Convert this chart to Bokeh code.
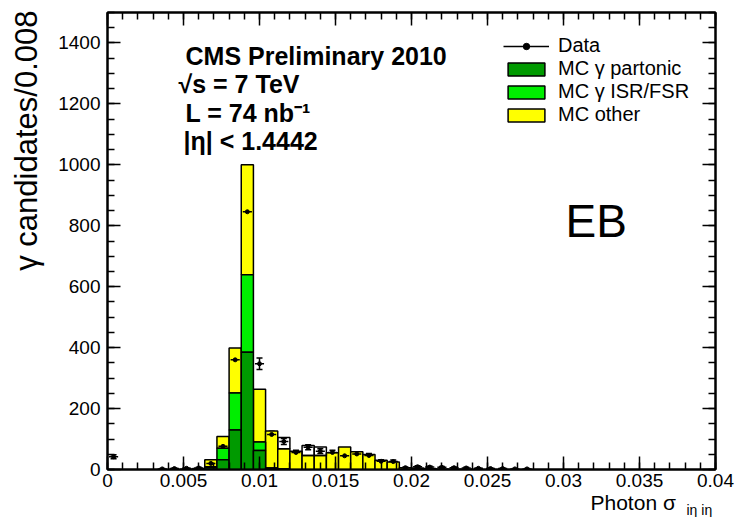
import math
from bokeh.plotting import figure
from bokeh.models import (Range1d, LinearAxis, Label, Legend, LegendItem, Whisker,
                          ColumnDataSource, TeeHead, FixedTicker, CustomJSTickFormatter)
from bokeh.embed import file_html
from bokeh.resources import INLINE

# ---------------- data ----------------
bin_width = 0.0008
n_bins = 50

mc_partonic = [0, 0, 0, 0, 0, 0, 0, 0, 6, 32,
               130, 385, 62, 3, 1, 0, 0, 0, 0, 0,
               0, 0, 0, 0, 0, 0, 0, 0, 0, 0,
               0, 0, 0, 0, 0, 0, 0, 0, 0, 0,
               0, 0, 0, 0, 0, 0, 0, 0, 0, 0]
mc_isrfsr = [0, 0, 0, 0, 0, 0, 0, 0, 3, 38,
             121, 254, 28, 2, 1, 0, 0, 0, 0, 0,
             0, 0, 0, 0, 0, 0, 0, 0, 0, 0,
             0, 0, 0, 0, 0, 0, 0, 0, 0, 0,
             0, 0, 0, 0, 0, 0, 0, 0, 0, 0]
mc_other = [0, 0, 0, 0, 0, 0, 1, 3, 23, 38,
            148, 361, 173, 121, 66, 60, 46, 46, 55, 74,
            58, 49, 30, 25, 6, 5, 3, 2, 1, 1,
            0, 0, 0, 0, 0, 0, 0, 0, 0, 0,
            0, 0, 0, 0, 0, 0, 0, 0, 0, 0]
# outline of the MC total where it rises above the filled stack
mc_outline = [0, 0, 0, 0, 0, 0, 0, 0, 0, 0,
              0, 0, 0, 0, 105, 0, 79, 74, 0, 0,
              0, 0, 0, 0, 0, 0, 0, 0, 0, 0,
              0, 0, 0, 0, 0, 0, 0, 0, 0, 0,
              0, 0, 0, 0, 0, 0, 0, 0, 0, 0]
data_counts = [42, None, None, None, 2, 3, 4, 5, 20, 76,
               360, 846, 347, 115, 92, 56, 73, 60, 56, 45,
               51, 46, 27, 26, 6, 9, 8, 7, 6, 5,
               4, 3, 3, 2, 2, None, None, None, None, None,
               None, None, None, None, None, None, None, None, None, None]

x_ticks = [0, 0.005, 0.01, 0.015, 0.02, 0.025, 0.03, 0.035, 0.04]
y_ticks = [0, 200, 400, 600, 800, 1000, 1200, 1400]

# ---------------- layout helpers ----------------
X0, X1, Y0, Y1 = 0.0, 0.04, 0.0, 1500.0
W, H = 742, 517
FL, FR, FT, FB = 107, 715, 12, 469


def dx(px):
    return X0 + (px - FL) / (FR - FL) * (X1 - X0)


def dy(py):
    return Y0 + (FB - py) / (FB - FT) * (Y1 - Y0)


FONT = "Liberation Sans"

p = figure(width=W, height=H, output_backend="svg", toolbar_location=None,
           x_range=Range1d(X0, X1), y_range=Range1d(Y0, Y1),
           min_border_left=FL, min_border_right=W - FR,
           min_border_top=FT, min_border_bottom=H - FB)
p.grid.visible = False
p.outline_line_color = "black"
p.outline_line_width = 2
p.background_fill_color = "white"
p.border_fill_color = "white"

# ---------------- histograms ----------------
left = [i * bin_width for i in range(n_bins)]
right = [(i + 1) * bin_width for i in range(n_bins)]
b1 = [0] * n_bins
t1 = [mc_partonic[i] for i in range(n_bins)]
t2 = [t1[i] + mc_isrfsr[i] for i in range(n_bins)]
t3 = [t2[i] + mc_other[i] for i in range(n_bins)]


def nz(bottom, top):
    idx = [i for i in range(n_bins) if top[i] > bottom[i]]
    return dict(left=[left[i] for i in idx], right=[right[i] for i in idx],
                bottom=[bottom[i] for i in idx], top=[top[i] for i in idx])


q_other = p.quad(source=ColumnDataSource(nz(t2, t3)), left="left", right="right",
                 bottom="bottom", top="top", fill_color="#ffff00",
                 line_color="black", line_width=1.5)
q_isr = p.quad(source=ColumnDataSource(nz(t1, t2)), left="left", right="right",
               bottom="bottom", top="top", fill_color="#00ee00",
               line_color="black", line_width=1.5)
q_part = p.quad(source=ColumnDataSource(nz(b1, t1)), left="left", right="right",
                bottom="bottom", top="top", fill_color="#009a00",
                line_color="black", line_width=1.5)
p.quad(source=ColumnDataSource(nz(t3, mc_outline)), left="left", right="right",
       bottom="bottom", top="top", fill_color=None,
       line_color="black", line_width=1.5)

# ---------------- data points ----------------
idx = [i for i in range(n_bins) if data_counts[i] is not None]
xc = [(i + 0.5) * bin_width for i in idx]
yv = [data_counts[i] for i in idx]
err = [math.sqrt(v) for v in yv]
hw = 0.0003
dsrc = ColumnDataSource(dict(x=xc, y=yv, x0=[x - hw for x in xc], x1=[x + hw for x in xc],
                             lo=[y - e for y, e in zip(yv, err)],
                             hi=[y + e for y, e in zip(yv, err)]))
hseg = p.segment(x0="x0", x1="x1", y0="y", y1="y", source=dsrc,
                 line_color="black", line_width=1.5)
wh = Whisker(base="x", lower="lo", upper="hi", source=dsrc, dimension="height",
             line_color="black", line_width=1.5,
             upper_head=TeeHead(size=6, line_color="black", line_width=1.5),
             lower_head=TeeHead(size=6, line_color="black", line_width=1.5))
p.add_layout(wh)
pts = p.scatter(x="x", y="y", source=dsrc, size=4, color="black")

# ---------------- axes ----------------
fmt = CustomJSTickFormatter(code="return parseFloat(tick.toFixed(4)).toString();")
blank = CustomJSTickFormatter(code="return '';")
xt = FixedTicker(ticks=x_ticks, minor_ticks=[i * 0.001 for i in range(41)])
yt = FixedTicker(ticks=y_ticks, minor_ticks=[i * 50 for i in range(31)])


def style_axis(ax):
    ax.axis_line_width = 2
    ax.axis_line_color = "black"
    ax.major_tick_in = 13
    ax.major_tick_out = 0
    ax.minor_tick_in = 7
    ax.minor_tick_out = 0
    ax.major_tick_line_width = 1.5
    ax.minor_tick_line_width = 1.5
    ax.major_tick_line_color = "black"
    ax.minor_tick_line_color = "black"
    ax.major_label_text_font = FONT
    ax.major_label_text_color = "black"
    ax.major_label_text_font_size = "19px"


p.xaxis.ticker = xt
p.xaxis.formatter = fmt
p.yaxis.ticker = yt
style_axis(p.xaxis[0])
style_axis(p.yaxis[0])
p.xaxis.major_label_standoff = 4
p.yaxis.major_label_standoff = 7

top_ax = LinearAxis(ticker=xt, formatter=blank)
right_ax = LinearAxis(ticker=yt, formatter=blank)
style_axis(top_ax)
style_axis(right_ax)
top_ax.major_label_standoff = 0
right_ax.major_label_standoff = 0
p.add_layout(top_ax, "above")
p.add_layout(right_ax, "right")

# ---------------- texts ----------------
p.add_layout(Label(x=dx(26), y=dy(10), text="γ candidates/0.008", angle=math.pi / 2,
                   text_align="right", text_baseline="alphabetic",
                   text_font=FONT, text_font_size="31px", text_color="black"), "left")
p.add_layout(Label(x=dx(590), y=dy(502), text="Photon σ", text_align="left",
                   text_baseline="alphabetic", text_font=FONT, text_font_size="21px",
                   text_color="black"), "below")
p.add_layout(Label(x=dx(686), y=dy(509), text="iη iη", text_align="left",
                   text_baseline="alphabetic", text_font=FONT, text_font_size="14px",
                   text_color="black"), "right")

info = [("CMS Preliminary 2010", 185, 55),
        ("√s = 7 TeV", 178, 83),
        ("L = 74 nb⁻¹", 185, 112),
        ("|η| < 1.4442", 183, 140)]
for txt, px, py in info:
    p.add_layout(Label(x=dx(px), y=dy(py), text=txt, text_align="left",
                       text_baseline="alphabetic", text_font=FONT,
                       text_font_size="25px", text_font_style="bold",
                       text_color="black"))

p.add_layout(Label(x=dx(565), y=dy(220), text="EB", text_align="left",
                   text_baseline="alphabetic", text_font=FONT, text_font_size="46px",
                   text_color="black"))

# ---------------- legend ----------------
legend = Legend(items=[LegendItem(label="Data", renderers=[hseg, pts]),
                       LegendItem(label="MC γ partonic", renderers=[q_part]),
                       LegendItem(label="MC γ ISR/FSR", renderers=[q_isr]),
                       LegendItem(label="MC other", renderers=[q_other])],
                location=(396, 343), orientation="vertical",
                glyph_width=46, glyph_height=16, label_height=16,
                label_standoff=9, spacing=0, padding=0, margin=0,
                border_line_alpha=0, background_fill_alpha=0,
                label_text_font=FONT, label_text_font_size="20px",
                label_text_color="black")
p.add_layout(legend)

open("out.html", "w").write(file_html(p, INLINE))
